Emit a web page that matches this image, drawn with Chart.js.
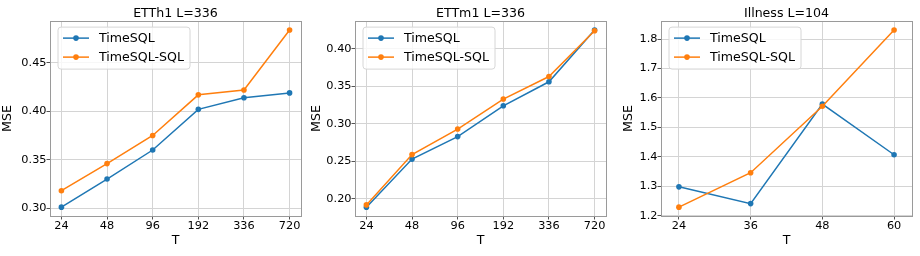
<!DOCTYPE html>
<html>
<head>
<meta charset="utf-8">
<script src="https://cdn.jsdelivr.net/npm/chart.js@4.4.0/dist/chart.umd.min.js"></script>
<style>
  html, body { margin: 0; padding: 0; background: #ffffff; }
  #wrap { position: relative; width: 920px; height: 256px; overflow: hidden; }
  canvas { position: absolute; top: 0; }
</style>
</head>
<body>
<div id="wrap">
  <canvas id="c1" width="305" height="256" style="left:0px"></canvas>
  <canvas id="c2" width="305" height="256" style="left:305px"></canvas>
  <canvas id="c3" width="310" height="256" style="left:610px"></canvas>
</div>
<script>
// ---- data ----
const seriesNames = ['TimeSQL', 'TimeSQL-SQL'];

const titles = ['ETTh1 L=336', 'ETTm1 L=336', 'Illness L=104'];

const categories1 = ['24', '48', '96', '192', '336', '720'];
const timesql1 = [0.301, 0.330, 0.360, 0.402, 0.414, 0.419];
const timesqlSql1 = [0.318, 0.346, 0.375, 0.417, 0.422, 0.484];
const yTicks1 = [0.30, 0.35, 0.40, 0.45];

const categories2 = ['24', '48', '96', '192', '336', '720'];
const timesql2 = [0.189, 0.253, 0.283, 0.324, 0.356, 0.425];
const timesqlSql2 = [0.192, 0.259, 0.293, 0.333, 0.363, 0.424];
const yTicks2 = [0.20, 0.25, 0.30, 0.35, 0.40];

const categories3 = ['24', '36', '48', '60'];
const timesql3 = [1.298, 1.241, 1.579, 1.407];
const timesqlSql3 = [1.229, 1.346, 1.572, 1.831];
const yTicks3 = [1.2, 1.3, 1.4, 1.5, 1.6, 1.7, 1.8];

// ---- style ----
const FONT = "'DejaVu Sans', 'Liberation Sans', sans-serif";
const BLUE = '#1f77b4';
const ORANGE = '#ff7f0e';

const framePlugin = {
  id: 'frameAndLegend',
  afterDatasetsDraw(chart) {
    const ctx = chart.ctx;
    const a = chart.chartArea;
    ctx.save();
    // frame (spines)
    ctx.strokeStyle = '#9a9a9a';
    ctx.lineWidth = 1;
    ctx.strokeRect(Math.round(a.left) + 0.5, Math.round(a.top) + 0.5,
      Math.round(a.right) - Math.round(a.left), Math.round(a.bottom) - Math.round(a.top));
    // legend box
    const bx = a.left + 8, by = a.top + 6, bw = 132, bh = 42, r = 3;
    ctx.beginPath();
    ctx.moveTo(bx + r, by);
    ctx.lineTo(bx + bw - r, by);
    ctx.arcTo(bx + bw, by, bx + bw, by + r, r);
    ctx.lineTo(bx + bw, by + bh - r);
    ctx.arcTo(bx + bw, by + bh, bx + bw - r, by + bh, r);
    ctx.lineTo(bx + r, by + bh);
    ctx.arcTo(bx, by + bh, bx, by + bh - r, r);
    ctx.lineTo(bx, by + r);
    ctx.arcTo(bx, by, bx + r, by, r);
    ctx.closePath();
    ctx.fillStyle = 'rgba(255,255,255,0.8)';
    ctx.fill();
    ctx.strokeStyle = '#d6d6d6';
    ctx.stroke();
    const ds = chart.data.datasets;
    ds.forEach((d, i) => {
      const y = a.top + 17 + i * 19;
      const x0 = a.left + 13, x1 = a.left + 39;
      ctx.strokeStyle = d.borderColor;
      ctx.lineWidth = 1.5;
      ctx.beginPath();
      ctx.moveTo(x0, y);
      ctx.lineTo(x1, y);
      ctx.stroke();
      ctx.fillStyle = d.borderColor;
      ctx.beginPath();
      ctx.arc((x0 + x1) / 2, y, 2.8, 0, Math.PI * 2);
      ctx.fill();
      ctx.fillStyle = '#000';
      ctx.font = '12.6px ' + FONT;
      ctx.textBaseline = 'middle';
      ctx.textAlign = 'left';
      ctx.fillText(d.label, a.left + 49, y + 0.5);
    });
    ctx.restore();
  }
};

function makeChart(id, title, cats, s1, s2, yTicks, decimals, yAxisW, rightPad, yTitlePad) {
  const all = s1.concat(s2);
  const lo = Math.min(...all), hi = Math.max(...all);
  const m = (hi - lo) * 0.05;
  const mk = (arr) => arr.map((v, i) => ({ x: i, y: v }));
  return new Chart(document.getElementById(id), {
    type: 'line',
    data: {
      datasets: [
        { label: seriesNames[0], data: mk(s1), borderColor: BLUE, backgroundColor: BLUE,
          borderWidth: 1.5, pointRadius: 2.8, pointBorderWidth: 0, pointBackgroundColor: BLUE,
          tension: 0, order: 1, clip: false },
        { label: seriesNames[1], data: mk(s2), borderColor: ORANGE, backgroundColor: ORANGE,
          borderWidth: 1.5, pointRadius: 2.8, pointBorderWidth: 0, pointBackgroundColor: ORANGE,
          tension: 0, order: 0, clip: false }
      ]
    },
    options: {
      responsive: false,
      animation: false,
      devicePixelRatio: 1,
      layout: { padding: { left: 0, right: rightPad, top: 0, bottom: 0 } },
      plugins: {
        legend: { display: false },
        tooltip: { enabled: false },
        title: {
          display: true, text: title, fullSize: false, color: '#000',
          font: { family: FONT, size: 12.6, weight: 'normal', lineHeight: 1.2 },
          padding: { top: 6, bottom: 0 }
        }
      },
      scales: {
        x: {
          type: 'linear',
          min: -0.25,
          max: cats.length - 0.75,
          afterBuildTicks: (sc) => { sc.ticks = cats.map((c, i) => ({ value: i })); },
          afterFit: (sc) => { sc.height = 40; },
          ticks: {
            autoSkip: false, maxRotation: 0, padding: 0, color: '#000',
            font: { family: FONT, size: 11.3, lineHeight: 1.2 },
            callback: (v) => cats[v]
          },
          grid: { color: '#d4d4d4', lineWidth: 1, drawTicks: true, tickLength: 3.5, tickColor: '#555' },
          border: { display: false },
          title: {
            display: true, text: 'T', color: '#000',
            font: { family: FONT, size: 12.6, lineHeight: 1.2 },
            padding: { top: 0, bottom: 7.9 }
          }
        },
        y: {
          type: 'linear',
          min: lo - m,
          max: hi + m,
          afterBuildTicks: (sc) => { sc.ticks = yTicks.map(v => ({ value: v })); },
          afterFit: (sc) => { sc.width = yAxisW; },
          ticks: {
            padding: 0, color: '#000',
            font: { family: FONT, size: 11.3, lineHeight: 1.2 },
            callback: (v) => Number(v).toFixed(decimals)
          },
          grid: { color: '#d4d4d4', lineWidth: 1, drawTicks: true, tickLength: 3.5, tickColor: '#555' },
          border: { display: false },
          title: {
            display: true, text: 'MSE', color: '#000',
            font: { family: FONT, size: 12.6, lineHeight: 1.2 },
            padding: { top: yTitlePad, bottom: 0 }
          }
        }
      }
    },
    plugins: [framePlugin]
  });
}

makeChart('c1', titles[0], categories1, timesql1, timesqlSql1, yTicks1, 2, 50, 3, 0.2);
makeChart('c2', titles[1], categories2, timesql2, timesqlSql2, yTicks2, 2, 50, 3, 4.1);
makeChart('c3', titles[2], categories3, timesql3, timesqlSql3, yTicks3, 1, 51, 8, 11.4);
</script>
</body>
</html>
